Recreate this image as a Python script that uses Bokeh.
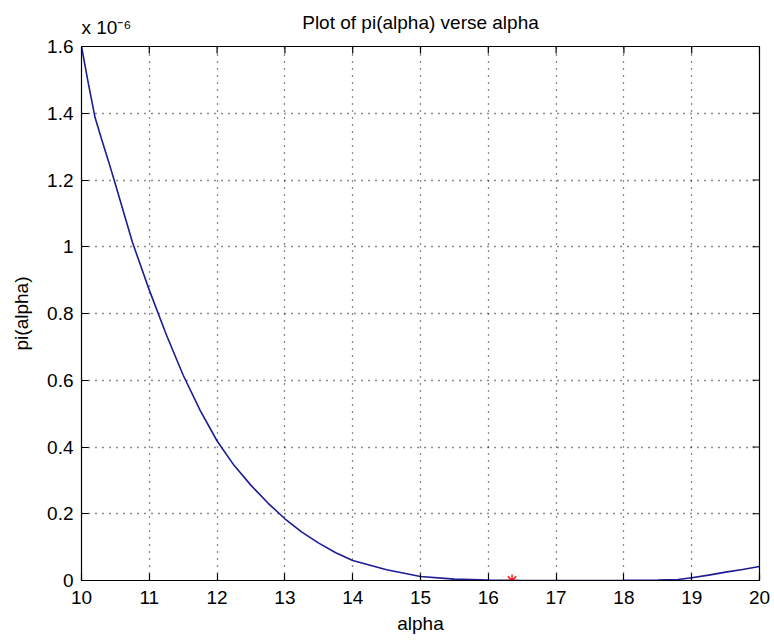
import math
from bokeh.plotting import figure
from bokeh.models import Range1d, FixedTicker, Title
from bokeh.embed import file_html
from bokeh.resources import INLINE

# data (pi values in units of 1e-6)
alpha = [10.0, 10.1, 10.2, 10.3, 10.4, 10.5, 10.75, 11.0, 11.25, 11.5, 11.75,
         12.0, 12.25, 12.5, 12.75, 13.0, 13.25, 13.5, 13.75, 14.0, 14.5, 15.0,
         15.5, 16.0, 16.5, 17.0, 17.5, 18.0, 18.5, 18.8, 19.0, 19.25, 19.5, 19.75, 20.0]
pi_alpha = [1.60, 1.49, 1.387, 1.32, 1.255, 1.187, 1.014, 0.87, 0.737, 0.615, 0.51,
            0.418, 0.345, 0.285, 0.232, 0.185, 0.145, 0.112, 0.083, 0.06, 0.032, 0.012,
            0.004, 0.001, 0.0, 0.0, 0.0, 0.0003, 0.0015, 0.003, 0.008, 0.016, 0.025, 0.033, 0.042]
min_alpha = [16.35]
min_pi = [0.0]
x_ticks = list(range(10, 21))
y_ticks = [0, 0.2, 0.4, 0.6, 0.8, 1.0, 1.2, 1.4, 1.6]
y_tick_labels = {0: "0", 0.2: "0.2", 0.4: "0.4", 0.6: "0.6", 0.8: "0.8",
                 1.0: "1", 1.2: "1.2", 1.4: "1.4", 1.6: "1.6"}
x_min, x_max = 10, 20
y_min, y_max = 0, 1.6
title_text = "Plot of pi(alpha) verse alpha"
scale_text = "x 10\u207b\u2076"

FONT = "Liberation Sans"
FS = "19px"

p = figure(width=770, height=641, output_backend="svg", toolbar_location=None,
           x_range=Range1d(x_min, x_max), y_range=Range1d(y_min, y_max),
           min_border_left=81, min_border_right=11, min_border_top=46, min_border_bottom=61)

# scale factor (inner row of the top panel), then the main title (outer row)
scale_title = Title(text=scale_text, align="left", text_font=FONT, text_font_size=FS,
                    text_font_style="normal", text_color="black", standoff=18)
p.add_layout(scale_title, "above")
main_title = Title(text=title_text, align="center", text_font=FONT, text_font_size=FS,
                   text_font_style="normal", text_color="black", standoff=-54)
p.add_layout(main_title, "above")

p.outline_line_color = "black"
p.outline_line_width = 1.2
p.background_fill_color = "white"
p.border_fill_color = "white"

for ax in (p.xaxis[0], p.yaxis[0]):
    ax.major_tick_in = 7
    ax.major_tick_out = 0
    ax.minor_tick_line_color = None
    ax.axis_line_color = "black"
    ax.major_tick_line_color = "black"
    ax.major_tick_line_width = 1.2
    ax.major_label_text_font = FONT
    ax.major_label_text_font_size = FS
    ax.major_label_text_color = "black"
    ax.axis_label_text_font = FONT
    ax.axis_label_text_font_size = FS
    ax.axis_label_text_font_style = "normal"
    ax.axis_label_text_color = "black"

p.xaxis[0].ticker = FixedTicker(ticks=x_ticks)
p.yaxis[0].ticker = FixedTicker(ticks=y_ticks)
p.yaxis[0].major_label_overrides = y_tick_labels
p.xaxis[0].axis_label = "alpha"
p.yaxis[0].axis_label = "pi(alpha)"
p.xaxis[0].major_label_standoff = 10
p.xaxis[0].axis_label_standoff = 6
p.yaxis[0].major_label_standoff = 8
p.yaxis[0].axis_label_standoff = 12

# top and right tick marks (inward)
p.ray(x=x_ticks, y=[y_max] * len(x_ticks), length=7, length_units="screen",
      angle=-math.pi / 2, line_color="black", line_width=1.2)
p.ray(x=[x_max] * len(y_ticks), y=y_ticks, length=7, length_units="screen",
      angle=math.pi, line_color="black", line_width=1.2)

for g in (p.xgrid[0], p.ygrid[0]):
    g.grid_line_color = "black"
    g.grid_line_dash = "1 6"
    g.grid_line_width = 1.3
    g.grid_line_alpha = 0.9
p.xgrid[0].ticker = FixedTicker(ticks=x_ticks)
p.ygrid[0].ticker = FixedTicker(ticks=y_ticks)

p.line(alpha, pi_alpha, line_color="#1c1c94", line_width=1.6)
p.scatter(min_alpha, min_pi, marker="asterisk", size=12, line_color="red", line_width=1.3)

open("out.html", "w").write(file_html(p, INLINE))
